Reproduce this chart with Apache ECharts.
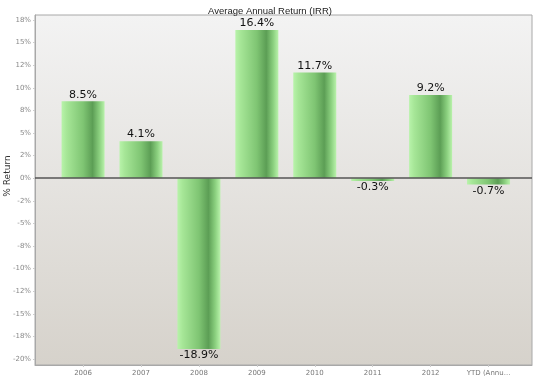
<!DOCTYPE html>
<html>
<head>
<meta charset="utf-8">
<script src="https://cdn.jsdelivr.net/npm/echarts@6/dist/echarts.min.js"></script>
<style>html,body{margin:0;padding:0;background:#fff}#c{width:540px;height:380px}</style>
</head>
<body>
<div id="c"></div>
<script>
const categories = ['2006','2007','2008','2009','2010','2011','2012','YTD (Annu...'];
const returns = [8.5, 4.1, -18.9, 16.4, 11.7, -0.3, 9.2, -0.7];
const tickValues = [-20,-17.5,-15,-12.5,-10,-7.5,-5,-2.5,0,2.5,5,7.5,10,12.5,15,17.5];
const tickLabels = ['-20%','-18%','-15%','-12%','-10%','-8%','-5%','-2%','0%','2%','5%','8%','10%','12%','15%','18%'];

const chart = echarts.init(document.getElementById('c'));
const barColor = new echarts.graphic.LinearGradient(0,0,1,0,[
  {offset:0,color:'#b8f3aa'},
  {offset:0.12,color:'#a6e697'},
  {offset:0.5,color:'#7fc573'},
  {offset:0.72,color:'#5c9e55'},
  {offset:0.88,color:'#8bd07f'},
  {offset:1,color:'#b9f2ab'}
]);
const data = returns.map((v,i)=>({
  value:[i,v],
  label:{position: v<0 ? 'bottom' : 'top'}
}));
chart.setOption({
  animation:false,
  title:{text:'Average Annual Return (IRR)',left:'center',top:1,
    textStyle:{fontFamily:'Liberation Sans',fontSize:9.5,fontWeight:'normal',color:'#222'}},
  grid:{left:35,right:8,top:15,bottom:15,containLabel:false,outerBoundsMode:'none',show:true,borderColor:'#a8a8a8',borderWidth:1,
    backgroundColor:new echarts.graphic.LinearGradient(0,0,0,1,[
      {offset:0,color:'#f3f3f3'},{offset:1,color:'#d6d2cb'}])},
  xAxis:{type:'value',min:-0.83,max:7.75,
    axisLine:{show:true,onZero:false,lineStyle:{color:'#a8a8a8'}},
    splitLine:{show:false},
    axisTick:{show:true,customValues:[0,1,2,3,4,5,6,7],length:2,lineStyle:{color:'#ccc'}},
    axisLabel:{customValues:[0,1,2,3,4,5,6,7],formatter:v=>categories[Math.round(v)],
      fontSize:7,color:'#777',margin:5,fontFamily:'DejaVu Sans'}},
  yAxis:{type:'value',min:-20.66,max:18.05,name:'% Return',nameLocation:'middle',nameGap:23,nameMoveOverlap:false,
    nameTextStyle:{fontSize:9,color:'#333',fontFamily:'DejaVu Sans',padding:[0,0,0,28]},
    axisLine:{show:true,onZero:false,lineStyle:{color:'#a8a8a8'}},
    splitLine:{show:false},
    axisTick:{show:true,customValues:tickValues,length:2,lineStyle:{color:'#ccc'}},
    axisLabel:{customValues:tickValues,formatter:v=>{const k=tickValues.findIndex(t=>Math.abs(t-v)<1e-6);return k>=0?tickLabels[k]:'';},
      fontSize:7,color:'#888',margin:4,fontFamily:'DejaVu Sans'}},
  series:[{type:'bar',data:data,barWidth:43,
    itemStyle:{color:barColor},
    label:{show:true,formatter:p=>p.value[1].toFixed(1)+'%',fontSize:11,color:'#111',distance:1,fontFamily:'DejaVu Sans'},
    markLine:{silent:true,symbol:'none',label:{show:false},
      lineStyle:{color:'#555',width:1.5,type:'solid'},data:[{yAxis:0}]}
  }]
});
</script>
</body>
</html>
